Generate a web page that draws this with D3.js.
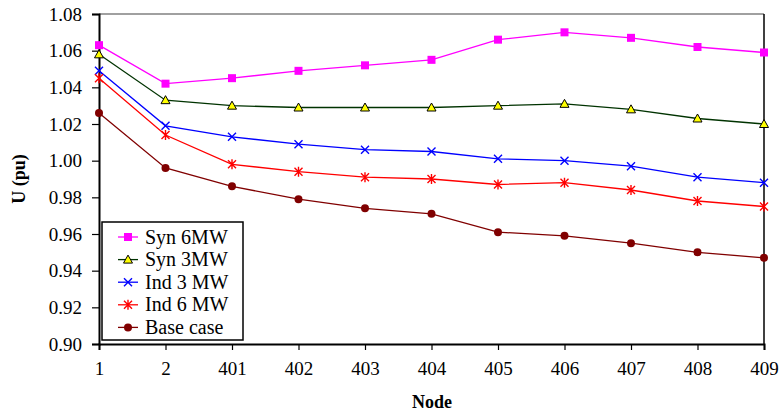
<!DOCTYPE html>
<html><head><meta charset="utf-8">
<script src="https://cdn.jsdelivr.net/npm/d3@7"></script>
<style>body{margin:0;background:#fff}svg, svg text{font-family:'Liberation Serif','Times New Roman',serif !important}</style>
</head><body><svg id="c" width="782" height="413"></svg>
<script>
const nodes = ["1","2","401","402","403","404","405","406","407","408","409"];
const syn6 = [1.063,1.042,1.045,1.049,1.052,1.055,1.066,1.070,1.067,1.062,1.059];
const syn3 = [1.058,1.033,1.030,1.029,1.029,1.029,1.030,1.031,1.028,1.023,1.020];
const ind3 = [1.049,1.019,1.013,1.009,1.006,1.005,1.001,1.000,0.997,0.991,0.988];
const ind6 = [1.045,1.014,0.998,0.994,0.991,0.990,0.987,0.988,0.984,0.978,0.975];
const base = [1.026,0.996,0.986,0.979,0.974,0.971,0.961,0.959,0.955,0.950,0.947];
const yTicks = [0.90,0.92,0.94,0.96,0.98,1.00,1.02,1.04,1.06,1.08];
const seriesNames = ["Syn 6MW","Syn 3MW","Ind 3 MW","Ind 6 MW","Base case"];

const series = [
  {name:seriesNames[0], values:syn6, color:"#FF00FF", marker:"square"},
  {name:seriesNames[1], values:syn3, color:"#003300", marker:"triangle"},
  {name:seriesNames[2], values:ind3, color:"#0000FF", marker:"x"},
  {name:seriesNames[3], values:ind6, color:"#FF0000", marker:"star"},
  {name:seriesNames[4], values:base, color:"#800000", marker:"circle"}
];

const L=99, R=764, T=14, B=344;
const svg = d3.select("#c");
const x = d3.scalePoint().domain(nodes).range([L,R]);
const y = d3.scaleLinear().domain([0.90,1.08]).range([B,T]);

svg.append("line").attr("x1",L).attr("x2",R).attr("y1",T).attr("y2",T).attr("stroke","#808080").attr("stroke-width",1.5);
svg.append("line").attr("x1",R).attr("x2",R).attr("y1",T).attr("y2",B).attr("stroke","#000").attr("stroke-width",1.5);

const yAxis = svg.append("g").attr("transform",`translate(${L},0)`)
  .call(d3.axisLeft(y).tickValues(yTicks).tickFormat(d3.format(".2f")).tickSize(7).tickPadding(10));
const xAxis = svg.append("g").attr("transform",`translate(0,${B})`)
  .call(d3.axisBottom(x).tickSize(6).tickPadding(12));
[yAxis,xAxis].forEach(g=>{
  g.attr("font-family",null).attr("font-size",19);
  g.select(".domain").attr("stroke","#000").attr("stroke-width",2);
  g.selectAll(".tick line").attr("stroke","#000").attr("stroke-width",1.2);
  g.selectAll("text").attr("font-size",19).attr("fill","#000");
});

svg.append("text").attr("x",432).attr("y",408).attr("text-anchor","middle")
  .attr("font-weight","bold").attr("font-size",18).text("Node");
svg.append("text").attr("transform","translate(25,179) rotate(-90)").attr("text-anchor","middle")
  .attr("font-weight","bold").attr("font-size",18).text("U (pu)");

function drawMarker(g, type, color, cx, cy){
  if(type==="square"){
    g.append("rect").attr("x",cx-4).attr("y",cy-4).attr("width",8).attr("height",8).attr("fill",color);
  } else if(type==="triangle"){
    g.append("path").attr("d",`M${cx},${cy-4.5}L${cx+4.5},${cy+3.5}L${cx-4.5},${cy+3.5}Z`)
      .attr("fill","#FFFF00").attr("stroke","#000").attr("stroke-width",1);
  } else if(type==="x"){
    g.append("path").attr("d",`M${cx-4},${cy-4}L${cx+4},${cy+4}M${cx-4},${cy+4}L${cx+4},${cy-4}`)
      .attr("stroke",color).attr("stroke-width",1.4);
  } else if(type==="star"){
    g.append("path").attr("d",`M${cx-4},${cy-4}L${cx+4},${cy+4}M${cx-4},${cy+4}L${cx+4},${cy-4}M${cx},${cy-5}L${cx},${cy+5}`)
      .attr("stroke",color).attr("stroke-width",1.4);
  } else {
    g.append("circle").attr("cx",cx).attr("cy",cy).attr("r",4).attr("fill",color);
  }
}

const line = d3.line().x((d,i)=>x(nodes[i])).y(d=>y(d));
series.forEach(s=>{
  const g = svg.append("g");
  g.append("path").attr("d",line(s.values)).attr("fill","none").attr("stroke",s.color).attr("stroke-width",1.3);
  s.values.forEach((v,i)=>drawMarker(g,s.marker,s.color,x(nodes[i]),y(v)));
});

const lg = svg.append("g");
lg.append("rect").attr("x",102).attr("y",222).attr("width",141).attr("height",118)
  .attr("fill","#fff").attr("stroke","#000").attr("stroke-width",1.5);
series.forEach((s,i)=>{
  const cy = 237 + i*22.6;
  lg.append("line").attr("x1",118).attr("x2",138).attr("y1",cy).attr("y2",cy).attr("stroke",s.color).attr("stroke-width",1.3);
  drawMarker(lg,s.marker,s.color,128,cy);
  lg.append("text").attr("x",145).attr("y",cy+6.5).attr("font-size",20).attr("fill","#000").text(s.name);
});
</script></body></html>
